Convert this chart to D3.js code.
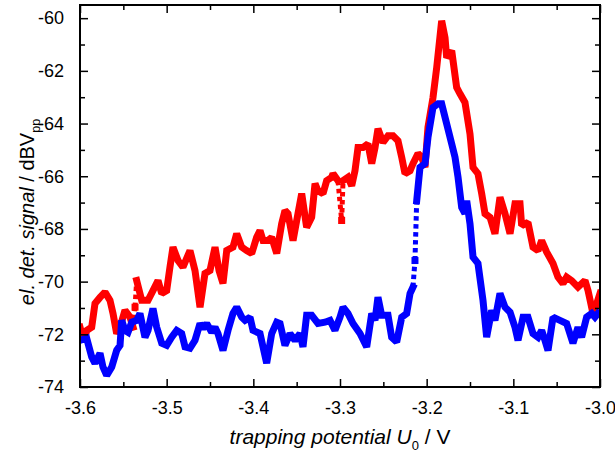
<!DOCTYPE html>
<html>
<head>
<meta charset="utf-8">
<script src="https://cdn.jsdelivr.net/npm/d3@7"></script>
<style>
  html, body { margin: 0; padding: 0; background: #fff; }
  svg text { font-family: "Liberation Sans", Arial, sans-serif; }
</style>
</head>
<body>
<svg id="chart" width="615" height="455"></svg>
<script>
// ---- data ----
const redU = [-3.600,-3.596,-3.592,-3.5865,-3.5827,-3.5769,-3.5712,-3.5654,-3.5619,-3.5577,-3.5538,-3.5481,-3.5423,-3.5388,-3.5365,-3.5346,-3.5288,-3.5215,-3.5158,-3.510,-3.5057,-3.500,-3.4962,-3.4927,-3.4869,-3.4812,-3.4731,-3.4673,-3.4615,-3.4558,-3.450,-3.4442,-3.4396,-3.435,-3.4307,-3.4235,-3.4192,-3.4134,-3.4077,-3.4019,-3.3962,-3.3923,-3.3888,-3.3831,-3.3788,-3.373,-3.3673,-3.3635,-3.360,-3.3542,-3.3485,-3.3442,-3.3385,-3.3327,-3.3288,-3.3254,-3.3196,-3.3154,-3.3096,-3.3081,-3.3023,-3.2981,-3.2965,-3.2908,-3.2865,-3.2827,-3.2792,-3.2735,-3.2677,-3.2634,-3.2596,-3.2562,-3.2504,-3.2446,-3.2388,-3.2331,-3.2288,-3.225,-3.2192,-3.2158,-3.210,-3.2057,-3.2019,-3.1985,-3.1927,-3.1884,-3.1827,-3.1788,-3.1769,-3.1711,-3.1654,-3.1615,-3.1558,-3.150,-3.1465,-3.1408,-3.1365,-3.1327,-3.1269,-3.1212,-3.1154,-3.1096,-3.1038,-3.0981,-3.0923,-3.0904,-3.0831,-3.0773,-3.0715,-3.0673,-3.0615,-3.0542,-3.0485,-3.0427,-3.0385,-3.0327,-3.0254,-3.0173,-3.0138,-3.0081,-3.0038,-3.000];
const redSignal = [-71.73,-72.23,-71.85,-71.73,-70.83,-70.60,-70.40,-70.71,-71.21,-71.97,-71.73,-71.09,-71.35,-71.73,-70.97,-69.96,-70.71,-70.71,-70.34,-69.96,-70.45,-70.34,-69.45,-68.69,-69.20,-69.45,-68.82,-69.58,-70.97,-69.69,-69.58,-68.69,-69.58,-70.07,-68.82,-68.69,-68.18,-68.69,-68.82,-68.93,-68.32,-68.06,-68.44,-68.44,-68.32,-68.93,-67.80,-67.30,-67.42,-68.44,-67.42,-66.66,-67.94,-67.56,-66.28,-66.55,-66.66,-66.17,-66.04,-65.90,-66.17,-67.68,-66.17,-66.04,-66.36,-65.79,-64.91,-64.91,-64.77,-65.52,-64.91,-64.20,-64.72,-64.46,-64.46,-64.65,-65.28,-65.90,-65.79,-65.52,-65.14,-65.28,-65.66,-64.15,-63.01,-61.87,-60.10,-60.74,-61.50,-61.24,-62.63,-62.87,-63.20,-64.39,-65.66,-65.90,-66.66,-67.42,-67.56,-68.18,-66.80,-67.42,-68.18,-67.04,-67.04,-67.87,-67.75,-68.69,-68.82,-68.44,-68.88,-69.31,-69.83,-70.07,-69.83,-69.96,-70.21,-69.96,-70.34,-71.21,-70.83,-70.45];
// segments (by starting U) where the reference shows separate markers
const redSparseFrom = [-3.5388, -3.5365, -3.3023, -3.2981];

const blueU = [-3.600,-3.5923,-3.5865,-3.5827,-3.5769,-3.5735,-3.5692,-3.5634,-3.5577,-3.5538,-3.5519,-3.5481,-3.5446,-3.5403,-3.5346,-3.5308,-3.525,-3.5215,-3.5158,-3.5115,-3.5057,-3.500,-3.4942,-3.4884,-3.4827,-3.4788,-3.4731,-3.4673,-3.4615,-3.4581,-3.4538,-3.448,-3.4442,-3.4408,-3.435,-3.4292,-3.4235,-3.4192,-3.4134,-3.4096,-3.4038,-3.4004,-3.3923,-3.3888,-3.3846,-3.3788,-3.373,-3.3692,-3.3635,-3.3577,-3.3519,-3.3462,-3.3427,-3.3385,-3.3327,-3.3254,-3.3173,-3.3115,-3.3058,-3.300,-3.2965,-3.2908,-3.285,-3.2769,-3.2692,-3.2634,-3.2596,-3.2562,-3.2519,-3.2446,-3.2404,-3.2346,-3.2288,-3.2231,-3.2192,-3.2158,-3.2135,-3.2115,-3.2077,-3.2019,-3.1985,-3.1927,-3.1869,-3.1827,-3.1769,-3.1711,-3.1673,-3.1638,-3.1596,-3.1558,-3.1538,-3.150,-3.1465,-3.1408,-3.135,-3.1308,-3.125,-3.1212,-3.1154,-3.1096,-3.1038,-3.0981,-3.0946,-3.0888,-3.0831,-3.0773,-3.0715,-3.0673,-3.0635,-3.060,-3.0542,-3.0462,-3.0385,-3.0312,-3.0254,-3.0212,-3.0154,-3.0096,-3.0058,-3.0023];
const blueSignal = [-72.23,-72.15,-72.86,-73.10,-72.72,-73.24,-73.56,-73.24,-72.61,-72.42,-71.47,-71.85,-71.92,-71.54,-71.47,-71.21,-72.11,-71.85,-71.02,-71.73,-72.34,-72.42,-72.11,-71.85,-71.97,-72.48,-72.53,-72.23,-71.59,-71.78,-71.59,-71.92,-71.73,-71.97,-72.61,-71.85,-71.21,-70.97,-71.35,-71.47,-71.35,-71.85,-71.97,-72.48,-73.10,-71.97,-71.54,-71.59,-72.42,-71.97,-72.23,-71.97,-72.48,-71.28,-71.28,-71.59,-71.54,-71.47,-71.85,-71.35,-70.97,-71.21,-71.59,-71.97,-72.48,-71.21,-71.47,-70.59,-71.28,-71.28,-72.11,-72.29,-71.35,-71.21,-70.45,-70.21,-69.20,-66.93,-65.66,-65.52,-64.53,-63.39,-63.25,-63.25,-64.01,-64.77,-65.28,-66.04,-67.18,-67.42,-66.93,-67.80,-69.07,-69.31,-70.71,-72.11,-71.09,-71.47,-70.45,-70.97,-71.16,-71.73,-72.23,-71.35,-71.35,-71.97,-72.11,-71.85,-72.23,-72.61,-71.35,-71.47,-71.59,-72.34,-71.73,-72.11,-71.35,-71.21,-71.35,-71.21];
const blueSparseFrom = [-3.2158, -3.2135];

const xMajorTicks = [-3.6,-3.5,-3.4,-3.3,-3.2,-3.1,-3.0];
const xMinorTicks = [-3.55,-3.45,-3.35,-3.25,-3.15,-3.05];
const yMajorTicks = [-74,-72,-70,-68,-66,-64,-62,-60];
const yMinorTicks = [-73,-71,-69,-67,-65,-63,-61];

// ---- layout ----
const svg = d3.select("#chart");
const L = 80, R = 600, T = 5, B = 387;
const x = d3.scaleLinear().domain([-3.6, -3.0]).range([L, R]);
const y = d3.scaleLinear().domain([-74, -59.5]).range([B, T]);

const fmtX = d => d3.format(".1f")(d).replace("\u2212", "-");
const fmtY = d => String(d);

svg.append("defs").append("clipPath").attr("id", "clip")
  .append("rect").attr("x", L).attr("y", T).attr("width", R - L).attr("height", B - T);

const lineGen = d3.line().x(d => x(d[0])).y(d => y(d[1]));
const plot = svg.append("g").attr("clip-path", "url(#clip)");

function drawSeries(us, vs, sparseFrom, color) {
  const pts = us.map((u, i) => [u, vs[i]]);
  const runs = [], gaps = [];
  let cur = [pts[0]];
  for (let i = 1; i < pts.length; i++) {
    if (sparseFrom.includes(pts[i - 1][0])) {
      runs.push(cur); gaps.push([pts[i - 1], pts[i]]); cur = [pts[i]];
    } else cur.push(pts[i]);
  }
  runs.push(cur);
  plot.selectAll(null).data(gaps).enter().append("path")
    .attr("d", lineGen)
    .attr("fill", "none").attr("stroke", color)
    .attr("stroke-width", 5).attr("stroke-dasharray", "4.5,3.5");
  plot.selectAll(null).data(runs).enter().append("path")
    .attr("d", d => d.length > 1 ? lineGen(d) : `M${x(d[0][0])},${y(d[0][1])}h0`)
    .attr("fill", "none").attr("stroke", color)
    .attr("stroke-width", 7)
    .attr("stroke-linejoin", "miter").attr("stroke-miterlimit", 1.6)
    .attr("stroke-linecap", "square");
}
drawSeries(redU, redSignal, redSparseFrom, "#ff0000");
drawSeries(blueU, blueSignal, blueSparseFrom, "#0000ff");

// ---- axes (ticks inward on all four sides) ----
const MAJ = 8, MIN = 5;
const axisBottom = d3.axisBottom(x).tickValues(xMajorTicks).tickSize(-MAJ).tickPadding(MAJ + 6).tickFormat(fmtX);
const axisBottomMinor = d3.axisBottom(x).tickValues(xMinorTicks).tickSize(-MIN).tickFormat("");
const axisTop = d3.axisTop(x).tickValues(xMajorTicks).tickSize(-MAJ).tickFormat("");
const axisTopMinor = d3.axisTop(x).tickValues(xMinorTicks).tickSize(-MIN).tickFormat("");
const axisLeft = d3.axisLeft(y).tickValues(yMajorTicks).tickSize(-MAJ).tickPadding(MAJ + 8).tickFormat(fmtY);
const axisLeftMinor = d3.axisLeft(y).tickValues(yMinorTicks).tickSize(-MIN).tickFormat("");
const axisRight = d3.axisRight(y).tickValues(yMajorTicks).tickSize(-MAJ).tickFormat("");
const axisRightMinor = d3.axisRight(y).tickValues(yMinorTicks).tickSize(-MIN).tickFormat("");

function styleAxis(g) {
  g.select(".domain").remove();
  g.selectAll(".tick line").attr("stroke", "#000").attr("stroke-width", 1.5);
  g.selectAll(".tick text").attr("fill", "#000").attr("font-size", 18)
    .attr("font-family", "'Liberation Sans', Arial, sans-serif");
}
svg.append("g").attr("transform", `translate(0,${B})`).call(axisBottom).call(styleAxis);
svg.append("g").attr("transform", `translate(0,${B})`).call(axisBottomMinor).call(styleAxis);
svg.append("g").attr("transform", `translate(0,${T})`).call(axisTop).call(styleAxis);
svg.append("g").attr("transform", `translate(0,${T})`).call(axisTopMinor).call(styleAxis);
svg.append("g").attr("transform", `translate(${L},0)`).call(axisLeft).call(styleAxis);
svg.append("g").attr("transform", `translate(${L},0)`).call(axisLeftMinor).call(styleAxis);
svg.append("g").attr("transform", `translate(${R},0)`).call(axisRight).call(styleAxis);
svg.append("g").attr("transform", `translate(${R},0)`).call(axisRightMinor).call(styleAxis);

svg.append("rect").attr("x", L).attr("y", T).attr("width", R - L).attr("height", B - T)
  .attr("fill", "none").attr("stroke", "#000").attr("stroke-width", 2);

// ---- axis titles ----
const xt = svg.append("text").attr("x", (L + R) / 2).attr("y", 444)
  .attr("text-anchor", "middle").attr("font-size", 21).attr("fill", "#000");
xt.append("tspan").attr("font-style", "italic").text("trapping potential U");
xt.append("tspan").attr("font-size", 13).attr("dy", 6).text("0");
xt.append("tspan").attr("dy", -6).text(" / V");

const yt = svg.append("text").attr("transform", "translate(34,212) rotate(-90)")
  .attr("text-anchor", "middle").attr("font-size", 20).attr("fill", "#000");
yt.append("tspan").attr("font-style", "italic").text("el. det. signal");
yt.append("tspan").text(" / dBV");
yt.append("tspan").attr("font-size", 12.5).attr("dy", 6).text("pp");
</script>
</body>
</html>
